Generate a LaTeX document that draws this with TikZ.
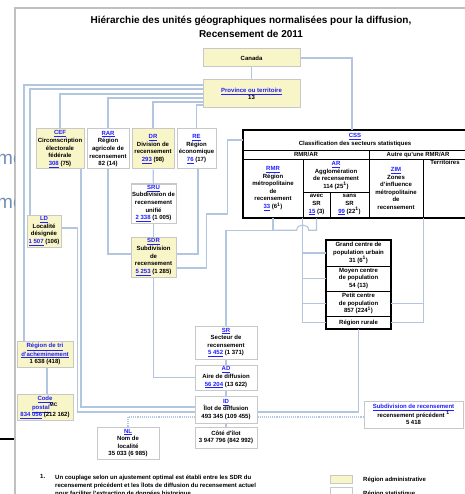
\documentclass[tikz,border=0pt]{standalone}
\usepackage{fontspec}
\setmainfont{Liberation Sans}
\definecolor{admyellow}{HTML}{F8F5C8}
\definecolor{boxgray}{HTML}{C8C8C8}
\definecolor{wireblue}{HTML}{B2C6E0}
\definecolor{linkblue}{HTML}{1F1FFF}
\definecolor{framegray}{HTML}{C0C0C0}
\definecolor{ghostblue}{HTML}{6F8DB5}
\newcommand{\geolink}[1]{\textcolor{linkblue}{\underline{#1}}}

\begin{document}
\begin{tikzpicture}[x=1pt,y=-1pt,
  every node/.style={font=\bfseries\fontsize{6}{7.6}\selectfont,align=center,inner sep=1pt},
  admin/.style={draw=boxgray,fill=admyellow,line width=1pt},
  stat/.style={draw=boxgray,fill=white,line width=1pt},
  cell/.style={draw=black,line width=0.5pt},
  wire/.style={draw=wireblue,line width=1.1pt},
  hint/.style={wire,densely dotted}]
\useasboundingbox (0,0) rectangle (464,494);
\draw[framegray,line width=1.5pt] (15,8) rectangle (475,505);
\begin{scope}
  \clip (0,0) rectangle (14,494);
  \node[font=\fontsize{19}{19}\selectfont,text=ghostblue,anchor=base west,inner sep=0pt] (ghosta) at (-3,165) {me};
  \node[font=\fontsize{19}{19}\selectfont,text=ghostblue,anchor=base west,inner sep=0pt] (ghostb) at (-3,208) {me};
\end{scope}
\draw[line width=1.5pt] (0,439) -- (14,439);

\node[font=\bfseries\fontsize{10}{14}\selectfont] (titre) at (251,27) {Hiérarchie des unités géographiques normalisées pour la diffusion,\\Recensement de 2011};

\node[admin,minimum width=97,minimum height=18] (canada) at (251.5,58) {Canada};
\node[admin,minimum width=97,minimum height=28] (prov) at (251.5,94) {\geolink{Province ou territoire}\\13};
\node[admin,minimum width=48,minimum height=40] (cef) at (60,149) {\geolink{CEF}\\Circonscription\\électorale\\fédérale\\\geolink{308} (75)};
\node[stat,minimum width=42,minimum height=40] (rar) at (108,149) {\geolink{RAR}\\Région\\agricole de\\recensement\\82 (14)};
\node[admin,minimum width=42,minimum height=40] (dr) at (153,149) {\geolink{DR}\\Division de\\recensement\\\geolink{293} (98)};
\node[stat,minimum width=39,minimum height=40] (re) at (196.5,149) {\geolink{RE}\\Région\\économique\\\geolink{76} (17)};
\node[stat,minimum width=45,minimum height=39] (sru) at (153.5,203.5) {\geolink{SRU}\\Subdivision de\\recensement\\unifié\\\geolink{2 338} (1 005)};
\node[admin,minimum width=34,minimum height=32] (ld) at (44,231) {\geolink{LD}\\Localité\\désignée\\\geolink{1 507} (106)};
\node[admin,minimum width=45,minimum height=40] (sdr) at (153.5,257) {\geolink{SDR}\\Subdivision\\de\\recensement\\\geolink{5 253} (1 285)};
\node[admin,minimum width=56,minimum height=26] (tri) at (45,354) {\geolink{Région de tri}\\\geolink{d'acheminement}\\1 638 (418)};
\node[admin,minimum width=56,minimum height=23] (code) at (45,407.5) {\geolink{Code}\\\geolink{postal}\textsuperscript{MC}\\\geolink{834 056} (212 162)};
\node[stat,minimum width=62,minimum height=33] (sr) at (226,342.5) {\geolink{SR}\\Secteur de\\recensement\\\geolink{5 452} (1 371)};
\node[stat,minimum width=62,minimum height=25] (ad) at (226,377.5) {\geolink{AD}\\Aire de diffusion\\\geolink{56 204} (13 622)};
\node[stat,minimum width=62,minimum height=27] (id) at (226,409.5) {\geolink{ID}\\Îlot de diffusion\\493 345 (109 455)};
\node[stat,minimum width=62,minimum height=21] (cote) at (226,437.5) {Côté d'îlot\\3 947 796 (842 992)};
\node[stat,minimum width=62,minimum height=32] (nl) at (128,443) {\geolink{NL}\\Nom de\\localité\\35 033 (6 985)};
\node[stat,minimum width=99,minimum height=27] (prec) at (413.5,414.5) {\geolink{Subdivision de recensement}\\recensement précédent \textsuperscript{1}\\5 418};

\node[cell,minimum width=224,minimum height=20] (csshead) at (355,140) {\geolink{CSS}\\Classification des secteurs statistiques};
\node[cell,minimum width=126,minimum height=9] (rmrar) at (306,154.5) {RMR/AR};
\node[cell,minimum width=98,minimum height=9] (autre) at (418,154.5) {Autre qu'une RMR/AR};
\node[cell,minimum width=60,minimum height=59] (rmr) at (273,188.5) {\geolink{RMR}\\Région\\métropolitaine\\de\\recensement\\\geolink{33} (6\textsuperscript{1})};
\node[cell,minimum width=66,minimum height=33] (ar) at (336,175.5) {\geolink{AR}\\Agglomération\\de recensement\\114 (25\textsuperscript{1})};
\node[cell,minimum width=27,minimum height=26] (avec) at (316.5,205) {avec\\SR\\\geolink{15} (3)};
\node[cell,minimum width=39,minimum height=26] (sans) at (349.5,205) {sans\\SR\\\geolink{99} (22\textsuperscript{1})};
\node[cell,minimum width=54,minimum height=59] (zim) at (396,188.5) {\geolink{ZIM}\\Zones\\d'influence\\métropolitaine\\de\\recensement};
\node[cell,minimum width=44,minimum height=59,label={[anchor=north,inner sep=1pt]north:Territoires}] (terr) at (445,188.5) {};
\draw[line width=1.6pt] (csshead.north west) rectangle (terr.south east);

\node[cell,minimum width=65,minimum height=26] (grand) at (358.5,253) {Grand centre de\\population urbain\\31 (6\textsuperscript{1})};
\node[cell,minimum width=65,minimum height=25] (moyen) at (358.5,278.5) {Moyen centre\\de population\\54 (13)};
\node[cell,minimum width=65,minimum height=25] (petit) at (358.5,303.5) {Petit centre\\de population\\857 (224\textsuperscript{1})};
\node[cell,minimum width=65,minimum height=13] (rurale) at (358.5,322.5) {Région rurale};
\draw[line width=1.6pt] (grand.north west) rectangle (rurale.south east);

\draw[wire] (canada) -- (prov);
\draw[wire] (canada.east) -| ([xshift=-3pt]csshead.north);
\draw[wire] ([yshift=9pt]prov.west) -| ([xshift=-21pt]tri.north);
\draw[wire] ([yshift=5pt]prov.west) -| ([xshift=-14pt]ld.north);
\draw[wire] (prov.west) -| (cef.north);
\draw[wire] ([yshift=-4pt]prov.west) -| (rar.north);
\draw[wire] ([yshift=-8pt]prov.west) -| (dr.north);
\draw[wire] ([yshift=-11pt]prov.west) -| (re.north);
\draw[wire] (dr) -- (sru);
\draw[wire] (sru) -- (sdr);
\draw[wire] (rar.south) |- ([yshift=3pt]sdr.west);
\draw[wire] ([xshift=1.5pt]re.south) |- ([yshift=3pt]sdr.east);
\draw[wire] (csshead.west) -- ++(-15,0) -- ++(0,74) -- ++(-21,0) |- ([yshift=-11pt]sdr.east);
\draw[wire] (sdr.south) |- (ad.west);
\draw[wire] (sr) -- (ad);
\draw[wire] (ad) -- (id);
\draw[wire] (id) -- (cote);
\draw[wire] (sr.north) |- ([yshift=-12pt]rmr.south) -- (rmr.south);
\draw[wire] (avec.south) |- ([shift={(6,12)}]avec.south west) .. controls ([shift={(6,5)}]avec.south west) and ([shift={(-6,5)}]avec.south west) .. ([shift={(-6,12)}]avec.south west) -- ([yshift=-12pt]rmr.south);
\draw[wire] (avec.south west) |- (rurale.west);
\draw[wire] (avec.south west |- grand.west) -- (grand.west);
\draw[wire] (avec.south west |- moyen.west) -- (moyen.west);
\draw[wire] (avec.south west |- petit.west) -- (petit.west);
\draw[wire] (zim.south east) |- (rurale.east);
\draw[wire] (zim.south east |- petit.east) -- (petit.east);
\draw[wire] (rurale.south) |- ([yshift=-2.5pt]id.east);
\draw[wire] ([xshift=21pt]cef.south) |- ([yshift=2.5pt]id.west);
\draw[wire] ([yshift=3pt]ld.east) -- ++(16,0) |- ([yshift=-2.5pt]id.west);
\draw[wire] ([xshift=2pt]tri.south) -- ([xshift=2pt]code.north);
\draw[hint] (nl.north) |- ([yshift=-7.5pt]id.west);
\draw[hint] ([yshift=-7.5pt]id.east) -- ([yshift=-2.5pt]prec.west);

\node[anchor=north west,inner sep=0pt] (fnnum) at (40,474.5) {1.};
\node[anchor=north west,align=left,inner sep=0pt,font=\bfseries\fontsize{6}{8}\selectfont] (fntext) at (55,474.5) {Un couplage selon un ajustement optimal est établi entre les SDR du\\recensement précédent et les îlots de diffusion du recensement actuel\\pour faciliter l'extraction de données historique.};
\node[admin,minimum width=22,minimum height=8] (legadm) at (341,479) {};
\node[anchor=west] (legadmtxt) at (362,480) {Région administrative};
\node[stat,minimum width=22,minimum height=8] (legstat) at (341,491) {};
\node[anchor=west] (legstattxt) at (362,494) {Région statistique};
\end{tikzpicture}
\end{document}
